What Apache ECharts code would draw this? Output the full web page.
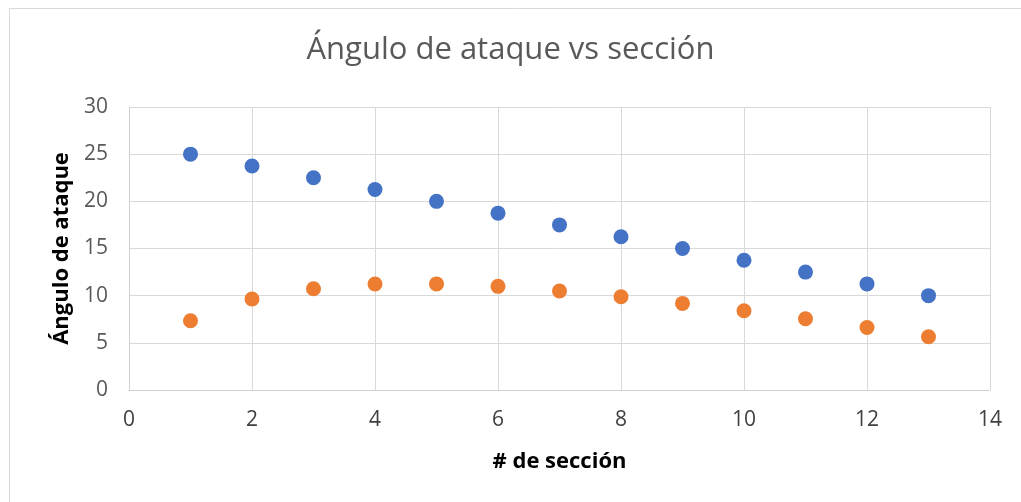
<!DOCTYPE html>
<html>
<head>
<meta charset="utf-8">
<script src="https://cdn.jsdelivr.net/npm/echarts@6/dist/echarts.min.js"></script>
<style>
  html, body { margin: 0; padding: 0; background: #fff; }
  #chart { width: 1021px; height: 502px; }
</style>
</head>
<body>
<div id="chart"></div>
<script>
// Section numbers along the blade
const sections = [1, 2, 3, 4, 5, 6, 7, 8, 9, 10, 11, 12, 13];
// Angle of attack per section, two series
const serieAzul = [25, 23.75, 22.5, 21.25, 20, 18.75, 17.5, 16.25, 15, 13.75, 12.5, 11.25, 10];
const serieNaranja = [7.34, 9.64, 10.74, 11.23, 11.25, 10.99, 10.49, 9.89, 9.18, 8.4, 7.55, 6.63, 5.64];

const pairs = (ys) => sections.map((x, i) => [x, ys[i]]);

const fontFam = '"Open Sans", "Noto Sans", sans-serif';
const chart = echarts.init(document.getElementById('chart'), null, { renderer: 'canvas' });

chart.setOption({
  backgroundColor: '#ffffff',
  animation: false,
  title: {
    text: 'Ángulo de ataque vs sección',
    left: 'center',
    top: 30,
    textStyle: { fontFamily: fontFam, fontSize: 31, fontWeight: 'normal', color: '#595959' }
  },
  graphic: [{
    type: 'rect',
    shape: { x: 9.5, y: 8.5, width: 1100, height: 600 },
    style: { fill: 'none', stroke: '#d9d9d9', lineWidth: 1 },
    silent: true
  }],
  grid: { left: 129, right: 31, top: 107, bottom: 112 },
  xAxis: {
    type: 'value',
    min: 0, max: 14, interval: 2,
    name: '# de sección',
    nameLocation: 'middle',
    nameGap: 61,
    nameTextStyle: { fontFamily: fontFam, fontSize: 22, fontWeight: 'bold', color: '#000' },
    axisLine: { show: true, lineStyle: { color: '#d0d0d0', width: 1 } },
    axisTick: { show: false },
    axisLabel: { fontFamily: fontFam, fontSize: 21, color: '#404040', margin: 20 },
    splitLine: { show: true, lineStyle: { color: '#d9d9d9', width: 1 } }
  },
  yAxis: {
    type: 'value',
    min: 0, max: 30, interval: 5,
    name: 'Ángulo de ataque',
    nameLocation: 'middle',
    nameGap: 55,
    nameTextStyle: { fontFamily: fontFam, fontSize: 22, fontWeight: 'bold', color: '#000' },
    axisLine: { show: true, lineStyle: { color: '#d0d0d0', width: 1 } },
    axisTick: { show: false },
    axisLabel: { fontFamily: fontFam, fontSize: 21, color: '#595959', margin: 21 },
    splitLine: { show: true, lineStyle: { color: '#d9d9d9', width: 1 } }
  },
  series: [
    {
      type: 'scatter',
      data: pairs(serieAzul),
      symbolSize: 15,
      itemStyle: { color: '#4472c4', opacity: 1 }
    },
    {
      type: 'scatter',
      data: pairs(serieNaranja),
      symbolSize: 15,
      itemStyle: { color: '#ed7d31', opacity: 1 }
    }
  ]
});
</script>
</body>
</html>
